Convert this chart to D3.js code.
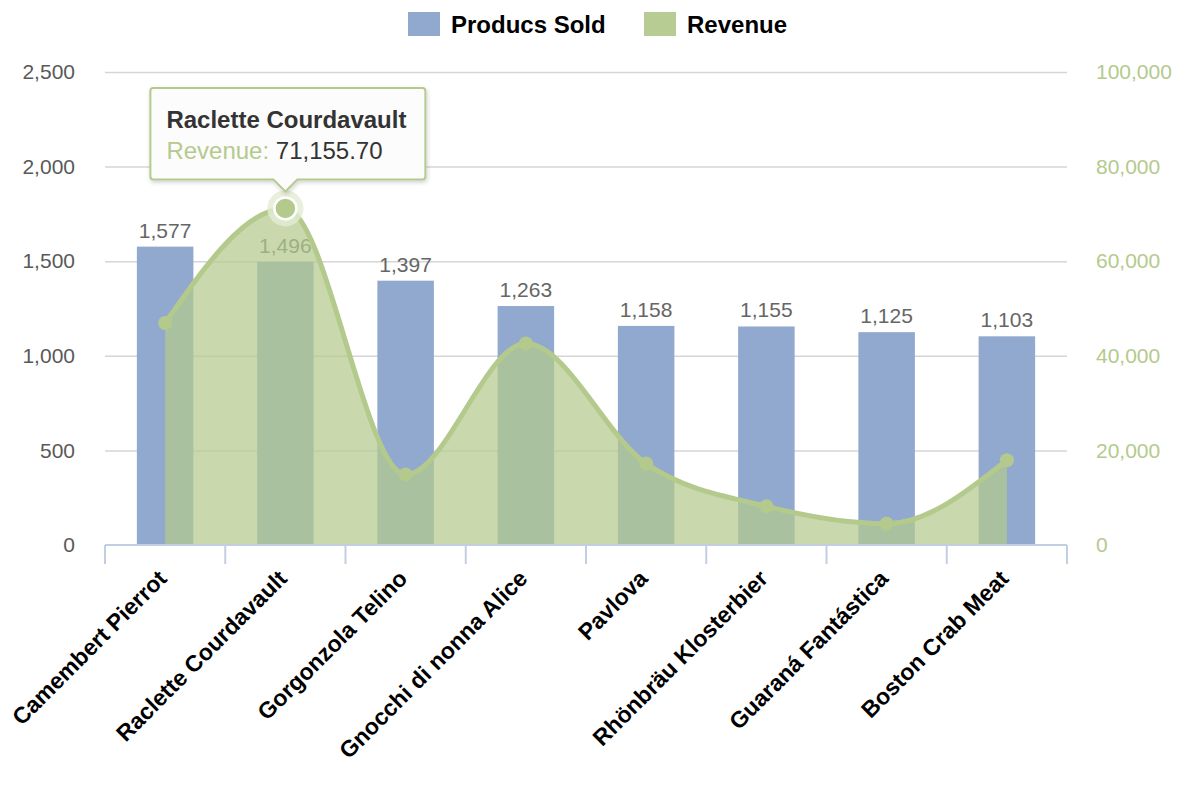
<!DOCTYPE html>
<html>
<head>
<meta charset="utf-8">
<script src="https://cdn.jsdelivr.net/npm/d3@7/dist/d3.min.js"></script>
<style>
  body { margin: 0; background: #fff; }
  #chart text { font-family: "Liberation Sans", Arial, sans-serif; }
</style>
</head>
<body>
<div id="chart"></div>
<script>
// data
const categories = ['Camembert Pierrot', 'Raclette Courdavault', 'Gorgonzola Telino', 'Gnocchi di nonna Alice',
  'Pavlova', 'Rhönbräu Klosterbier', 'Guaraná Fantástica', 'Boston Crab Meat'];
const productsSold = [1577, 1496, 1397, 1263, 1158, 1155, 1125, 1103];
const revenue = [46927.48, 71155.70, 14920.88, 42593.06, 17215.78, 8177.49, 4504.36, 17910.63];
const leftTicks = [0, 500, 1000, 1500, 2000, 2500];
const rightTicks = [0, 20000, 40000, 60000, 80000, 100000];
const seriesNames = ['Producs Sold', 'Revenue'];
const highlighted = 1; // tooltip shown on Raclette Courdavault

const width = 1200;
const height = 800;
const margin = {top: 72, right: 133, bottom: 255, left: 105};

const blue = '#91a8cf';
const green = '#b4ca8d';

const svg = d3.select('#chart').append('svg')
  .attr('width', width)
  .attr('height', height);

const defs = svg.append('defs');
const shadow = defs.append('filter').attr('id', 'shadow')
  .attr('x', '-10%').attr('y', '-10%').attr('width', '130%').attr('height', '140%');
shadow.append('feDropShadow')
  .attr('dx', 1).attr('dy', 2).attr('stdDeviation', 2)
  .attr('flood-color', '#000').attr('flood-opacity', 0.18);

/* Scales */
const x = d3.scaleBand()
  .domain(categories)
  .range([margin.left, width - margin.right]);

const yLeft = d3.scaleLinear()
  .domain([0, 2500])
  .range([height - margin.bottom, margin.top]);

const yRight = d3.scaleLinear()
  .domain([0, 100000])
  .range([height - margin.bottom, margin.top]);

const cx = d => x(d) + x.bandwidth() / 2;
const fmt = d3.format(',');

/* Gridlines */
svg.append('g')
  .attr('class', 'grid')
  .attr('transform', `translate(${margin.left}, 0)`)
  .call(d3.axisLeft(yLeft).tickValues(leftTicks.filter(d => d > 0))
    .tickSize(-(width - margin.left - margin.right)).tickFormat(''))
  .call(g => g.select('.domain').remove())
  .call(g => g.selectAll('line').attr('stroke', '#d6d6d6').attr('stroke-width', 1.5));

/* Bars */
const barW = x.bandwidth() * 0.47;
svg.append('g')
  .selectAll('rect')
  .data(productsSold)
  .enter().append('rect')
  .attr('x', (d, i) => cx(categories[i]) - barW / 2)
  .attr('y', d => yLeft(d))
  .attr('width', barW)
  .attr('height', d => yLeft(0) - yLeft(d))
  .attr('fill', blue);

svg.append('g')
  .selectAll('text')
  .data(productsSold)
  .enter().append('text')
  .attr('x', (d, i) => cx(categories[i]))
  .attr('y', d => yLeft(d) - 9)
  .attr('text-anchor', 'middle')
  .attr('font-size', 21)
  .attr('fill', '#666')
  .text(d => fmt(d));

/* Revenue area + line */
const area = d3.area()
  .x((d, i) => cx(categories[i]))
  .y0(yRight(0))
  .y1(d => yRight(d))
  .curve(d3.curveMonotoneX);

const line = d3.line()
  .x((d, i) => cx(categories[i]))
  .y(d => yRight(d))
  .curve(d3.curveMonotoneX);

svg.append('path')
  .datum(revenue)
  .attr('d', area)
  .attr('fill', green)
  .attr('fill-opacity', 0.72);

svg.append('path')
  .datum(revenue)
  .attr('d', line)
  .attr('fill', 'none')
  .attr('stroke', green)
  .attr('stroke-width', 5);

svg.append('g')
  .selectAll('circle')
  .data(revenue)
  .enter().append('circle')
  .attr('cx', (d, i) => cx(categories[i]))
  .attr('cy', d => yRight(d))
  .attr('r', 7)
  .attr('fill', green);

/* Highlighted point */
const hx = cx(categories[highlighted]);
const hy = yRight(revenue[highlighted]);
svg.append('circle')
  .attr('cx', hx).attr('cy', hy).attr('r', 18)
  .attr('fill', '#e2ebd3').attr('fill-opacity', 0.8);
svg.append('circle')
  .attr('cx', hx).attr('cy', hy).attr('r', 11)
  .attr('fill', green).attr('stroke', '#fff').attr('stroke-width', 2.5);

/* Axes */
const leftAxis = svg.append('g')
  .attr('transform', `translate(${margin.left}, 0)`)
  .call(d3.axisLeft(yLeft).tickValues(leftTicks).tickSize(0).tickPadding(30).tickFormat(fmt));
leftAxis.select('.domain').remove();
leftAxis.selectAll('text')
  .attr('font-size', 21)
  .attr('fill', '#595959');

const rightAxis = svg.append('g')
  .attr('transform', `translate(${width - margin.right}, 0)`)
  .call(d3.axisRight(yRight).tickValues(rightTicks).tickSize(0).tickPadding(29).tickFormat(fmt));
rightAxis.select('.domain').remove();
rightAxis.selectAll('text')
  .attr('font-size', 21)
  .attr('fill', green);

const xAxis = svg.append('g')
  .attr('transform', `translate(0, ${yLeft(0)})`)
  .call(d3.axisBottom(x).tickSize(0).tickPadding(0));
xAxis.select('.domain')
  .attr('stroke', '#c2cfe2').attr('stroke-width', 2)
  .attr('d', `M${margin.left},0H${width - margin.right}`);
xAxis.selectAll('.tick text')
  .attr('font-size', 23)
  .attr('font-weight', 'bold')
  .attr('fill', '#000')
  .attr('text-anchor', 'end')
  .attr('y', 0)
  .attr('dy', 0)
  .attr('transform', 'translate(3, 35) rotate(-45)');

// category boundary ticks
const bounds = categories.map(c => x(c)).concat([x.range()[1]]);
xAxis.append('g')
  .selectAll('line')
  .data(bounds)
  .enter().append('line')
  .attr('x1', d => d).attr('x2', d => d)
  .attr('y1', 0).attr('y2', 19)
  .attr('stroke', '#c2cfe2')
  .attr('stroke-width', 2);

/* Legend */
const legend = svg.append('g').attr('class', 'legend');
const legendItems = [
  {name: seriesNames[0], color: blue, x: 408},
  {name: seriesNames[1], color: '#b6cc92', x: 644}
];
legendItems.forEach(item => {
  legend.append('rect')
    .attr('x', item.x).attr('y', 12)
    .attr('width', 32).attr('height', 24)
    .attr('fill', item.color);
  legend.append('text')
    .attr('x', item.x + 43).attr('y', 33)
    .attr('font-size', 24)
    .attr('font-weight', 'bold')
    .attr('fill', '#000')
    .text(item.name);
});

/* Tooltip */
const tipY = hy - 17;
const boxL = hx - 135, boxR = hx + 140, boxT = 88, boxB = tipY - 12;
const tip = svg.append('g').attr('class', 'tooltip');
tip.append('path')
  .attr('d', `M${boxL},${boxT + 3}Q${boxL},${boxT} ${boxL + 3},${boxT}H${boxR - 3}Q${boxR},${boxT} ${boxR},${boxT + 3}` +
    `V${boxB - 3}Q${boxR},${boxB} ${boxR - 3},${boxB}H${hx + 12}L${hx},${tipY}L${hx - 12},${boxB}` +
    `H${boxL + 3}Q${boxL},${boxB} ${boxL},${boxB - 3}Z`)
  .attr('fill', '#fcfcfc')
  .attr('stroke', '#b4ca8d')
  .attr('stroke-width', 2)
  .attr('filter', 'url(#shadow)');
tip.append('text')
  .attr('x', boxL + 16).attr('y', 128)
  .attr('font-size', 24)
  .attr('font-weight', 'bold')
  .attr('fill', '#333')
  .text(categories[highlighted]);
const tipLine = tip.append('text')
  .attr('x', boxL + 16).attr('y', 159)
  .attr('font-size', 24);
tipLine.append('tspan').attr('fill', green).text(seriesNames[1] + ': ');
tipLine.append('tspan').attr('fill', '#333').text(d3.format(',.2f')(revenue[highlighted]));
</script>
</body>
</html>
